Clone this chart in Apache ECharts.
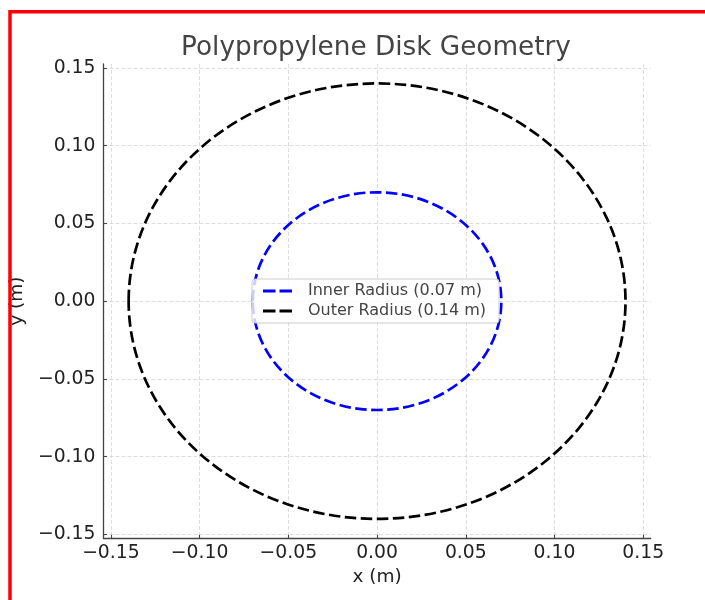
<!DOCTYPE html>
<html>
<head>
<meta charset="utf-8">
<title>Polypropylene Disk Geometry</title>
<script src="https://cdn.jsdelivr.net/npm/echarts@6/dist/echarts.min.js"></script>
<style>
  html, body { margin: 0; padding: 0; background: #ffffff; }
  #chart { width: 705px; height: 600px; }
</style>
</head>
<body>
<div id="chart"></div>
<script>
// Disk geometry: two concentric circles centred at the origin
const seriesNames = ['Inner Radius (0.07 m)', 'Outer Radius (0.14 m)'];
const radii = [0.07, 0.14];
const centerX = [0, 0];
const centerY = [0, 0];
const seriesColors = ['#0000ff', '#000000'];
const tickValues = [-0.15, -0.10, -0.05, 0.00, 0.05, 0.10, 0.15];
const xLimits = [-0.1542, 0.1542];
const yLimits = [-0.1525, 0.1525];

const FONT = 'DejaVu Sans';

function fmtTick(v) {
  if (Math.abs(v) < 1e-9) return '0.00';
  return v.toFixed(2).replace('-', '\u2212');
}

function axisCommon(name) {
  return {
    type: 'value',
    name: name,
    nameLocation: 'middle',
    nameTextStyle: { fontFamily: FONT, fontSize: 18.5, color: '#222' },
    axisLine: { show: true, onZero: false, lineStyle: { color: '#444', width: 1.3 } },
    axisTick: { show: true, inside: true, length: 3.5, customValues: tickValues,
                lineStyle: { color: '#444', width: 1.1 } },
    axisLabel: { customValues: tickValues, formatter: fmtTick,
                 fontFamily: FONT, fontSize: 18.8, color: '#222' },
    splitLine: { show: true, lineStyle: { color: '#d6d6d6', width: 0.8, type: [4, 2] } }
  };
}

const xAxis = Object.assign(axisCommon('x (m)'), { min: xLimits[0], max: xLimits[1], nameGap: 25 });
xAxis.axisLabel.margin = 5;
const yAxis = Object.assign(axisCommon('y (m)'), { min: yLimits[0], max: yLimits[1], nameGap: 70 });
yAxis.axisLabel.margin = 8;

// each circle is drawn as an ellipse in pixel space, sized by the axes scales
function renderCircle(params, api) {
  const cx = api.value(0), cy = api.value(1), r = api.value(2);
  const c = api.coord([cx, cy]);
  const e = api.coord([cx + r, cy + r]);
  return {
    type: 'ellipse',
    shape: { cx: c[0], cy: c[1], rx: e[0] - c[0], ry: c[1] - e[1] },
    style: { fill: 'none', stroke: api.visual('color'), lineWidth: 2.7, lineDash: [11.5, 4.5] }
  };
}

const series = seriesNames.map((name, i) => ({
  type: 'custom',
  name: name,
  renderItem: renderCircle,
  encode: { x: 0, y: 1 },
  itemStyle: { color: seriesColors[i] },
  data: [[centerX[i], centerY[i], radii[i]]],
  z: 2
}));

const chart = echarts.init(document.getElementById('chart'), null, { renderer: 'canvas' });
chart.setOption({
  backgroundColor: '#ffffff',
  animation: false,
  title: {
    text: 'Polypropylene Disk Geometry',
    left: 371,
    textAlign: 'center',
    top: 30,
    textStyle: { fontFamily: FONT, fontSize: 26.3, fontWeight: 'normal', color: '#444' }
  },
  grid: { left: 101.3, right: 54.3, top: 64, bottom: 61.7, containLabel: false },
  xAxis: xAxis,
  yAxis: yAxis,
  legend: {
    orient: 'vertical',
    left: 252,
    top: 279,
    padding: [4, 13, 4, 11],
    itemGap: 4,
    itemWidth: 29,
    itemHeight: 3,
    backgroundColor: 'rgba(255,255,255,0.8)',
    borderColor: '#cccccc',
    borderWidth: 1,
    borderRadius: 3,
    textStyle: { fontFamily: FONT, fontSize: 16, color: '#444', lineHeight: 16, padding: [0, 0, 0, 11] },
    data: seriesNames.map((name, i) => ({
      name: name,
      icon: 'path://M0,0h12.5v3h-12.5z M16.5,0h12.5v3h-12.5z',
      itemStyle: { color: seriesColors[i], borderWidth: 0 }
    }))
  },
  graphic: [{
    type: 'rect',
    silent: true,
    shape: { x: 10, y: 11.7, width: 1000, height: 1000 },
    style: { fill: 'none', stroke: '#ff0000', lineWidth: 3.5 },
    z: 100
  }],
  series: series
});
</script>
</body>
</html>
